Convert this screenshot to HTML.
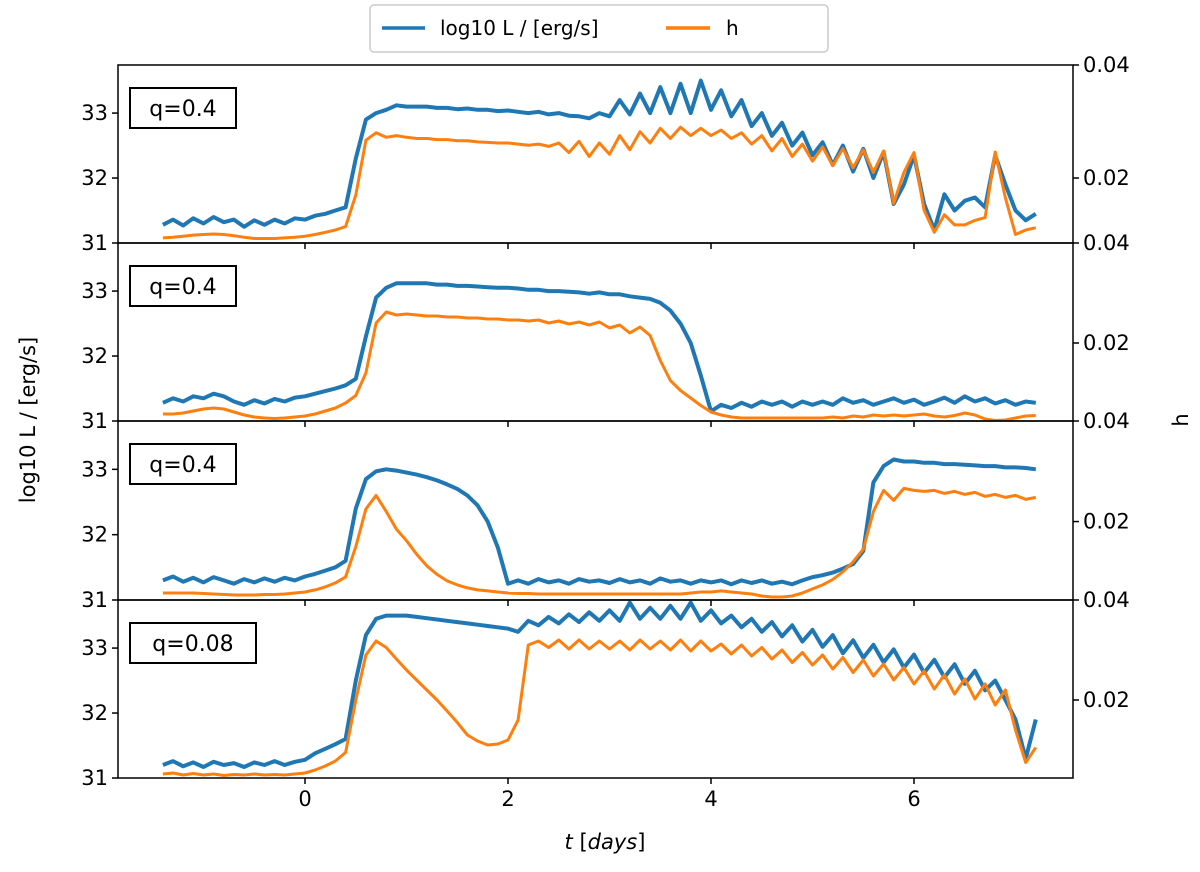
<!DOCTYPE html>
<html><head><meta charset="utf-8"><style>
body{margin:0;background:#fff}
svg text{font-family:"DejaVu Sans","Liberation Sans",sans-serif;fill:#000}
</style></head><body>
<svg id="chart" width="1200" height="867" xmlns="http://www.w3.org/2000/svg"></svg>
<script>
const T=[-1.4,-1.3,-1.2,-1.1,-1.0,-0.9,-0.8,-0.7,-0.6,-0.5,-0.4,-0.3,-0.2,-0.1,0.0,0.1,0.2,0.3,0.4,0.5,0.6,0.7,0.8,0.9,1.0,1.1,1.2,1.3,1.4,1.5,1.6,1.7,1.8,1.9,2.0,2.1,2.2,2.3,2.4,2.5,2.6,2.7,2.8,2.9,3.0,3.1,3.2,3.3,3.4,3.5,3.6,3.7,3.8,3.9,4.0,4.1,4.2,4.3,4.4,4.5,4.6,4.7,4.8,4.9,5.0,5.1,5.2,5.3,5.4,5.5,5.6,5.7,5.8,5.9,6.0,6.1,6.2,6.3,6.4,6.5,6.6,6.7,6.8,6.9,7.0,7.1,7.2];
const L1=[31.28,31.36,31.27,31.38,31.3,31.4,31.32,31.36,31.25,31.35,31.28,31.36,31.3,31.38,31.36,31.42,31.45,31.5,31.55,32.3,32.9,33.0,33.05,33.12,33.1,33.1,33.1,33.08,33.08,33.06,33.07,33.05,33.05,33.03,33.04,33.02,33.0,33.02,32.98,33.0,32.96,32.95,32.92,33.0,32.95,33.2,32.98,33.3,33.0,33.4,33.0,33.45,33.0,33.5,33.05,33.35,32.95,33.2,32.8,33.0,32.65,32.85,32.5,32.7,32.35,32.55,32.2,32.5,32.1,32.45,32.0,32.4,31.6,31.9,32.35,31.6,31.2,31.75,31.5,31.65,31.7,31.55,32.35,31.9,31.5,31.35,31.45];
const H1=[0.0094,0.0095,0.0097,0.0099,0.01,0.0101,0.01,0.0098,0.0095,0.0093,0.0093,0.0093,0.0094,0.0095,0.0097,0.01,0.0104,0.0108,0.0114,0.017,0.0267,0.028,0.0272,0.0275,0.0272,0.027,0.027,0.0268,0.0268,0.0266,0.0266,0.0264,0.0263,0.0262,0.0262,0.026,0.0258,0.026,0.0256,0.0262,0.0245,0.0265,0.0238,0.0262,0.0242,0.0275,0.025,0.0282,0.0262,0.0288,0.027,0.029,0.0275,0.0288,0.0275,0.0285,0.027,0.028,0.026,0.0275,0.0248,0.027,0.0238,0.026,0.023,0.0255,0.0222,0.0252,0.0218,0.025,0.021,0.0248,0.0155,0.021,0.0245,0.0143,0.0104,0.0135,0.0117,0.0117,0.0125,0.013,0.0246,0.0165,0.01,0.0108,0.0112];
const L2=[31.28,31.35,31.3,31.38,31.35,31.42,31.38,31.3,31.25,31.32,31.27,31.34,31.3,31.36,31.38,31.42,31.46,31.5,31.55,31.65,32.3,32.9,33.05,33.12,33.12,33.12,33.12,33.1,33.1,33.08,33.08,33.07,33.06,33.05,33.05,33.04,33.02,33.02,33.0,33.0,32.99,32.98,32.96,32.98,32.95,32.95,32.92,32.9,32.88,32.82,32.7,32.5,32.2,31.7,31.15,31.25,31.2,31.28,31.22,31.3,31.25,31.3,31.22,31.3,31.25,31.3,31.25,31.35,31.28,31.32,31.25,31.3,31.35,31.28,31.33,31.25,31.3,31.36,31.28,31.38,31.3,31.35,31.27,31.32,31.25,31.3,31.28];
const H2=[0.0058,0.0058,0.006,0.0064,0.0068,0.007,0.0068,0.0062,0.0056,0.0052,0.005,0.0049,0.005,0.0052,0.0054,0.0058,0.0064,0.007,0.008,0.0095,0.014,0.024,0.0262,0.0256,0.0258,0.0256,0.0254,0.0254,0.0252,0.0252,0.025,0.025,0.0248,0.0248,0.0246,0.0246,0.0244,0.0246,0.024,0.0244,0.0238,0.0242,0.0236,0.0242,0.023,0.0236,0.022,0.0232,0.0215,0.0165,0.0125,0.0105,0.009,0.0075,0.0062,0.0056,0.0052,0.005,0.005,0.005,0.005,0.005,0.005,0.005,0.005,0.005,0.0052,0.005,0.0054,0.0052,0.0056,0.0054,0.0056,0.0054,0.0056,0.0058,0.0054,0.0052,0.0055,0.006,0.0056,0.0048,0.0045,0.0046,0.005,0.0054,0.0055];
const L3=[31.3,31.36,31.28,31.34,31.27,31.35,31.3,31.25,31.32,31.27,31.33,31.28,31.34,31.3,31.36,31.4,31.45,31.5,31.6,32.4,32.85,32.97,33.0,32.98,32.95,32.92,32.88,32.83,32.77,32.7,32.6,32.45,32.2,31.8,31.25,31.3,31.25,31.32,31.27,31.3,31.25,31.32,31.28,31.3,31.26,31.32,31.27,31.3,31.25,31.33,31.28,31.3,31.25,31.3,31.27,31.3,31.24,31.3,31.26,31.3,31.25,31.28,31.24,31.3,31.35,31.38,31.42,31.48,31.55,31.75,32.8,33.05,33.15,33.12,33.12,33.1,33.1,33.08,33.08,33.07,33.06,33.05,33.05,33.03,33.03,33.02,33.0];
const H3=[0.0058,0.0058,0.0058,0.0058,0.0057,0.0056,0.0055,0.0054,0.0054,0.0054,0.0055,0.0055,0.0056,0.0058,0.006,0.0064,0.007,0.0078,0.009,0.015,0.0225,0.0252,0.022,0.0185,0.0162,0.0135,0.0112,0.0095,0.0082,0.0074,0.0068,0.0064,0.0062,0.006,0.0058,0.0057,0.0057,0.0056,0.0056,0.0056,0.0056,0.0056,0.0056,0.0056,0.0056,0.0056,0.0056,0.0056,0.0056,0.0056,0.0056,0.0056,0.0058,0.006,0.006,0.0062,0.006,0.0058,0.0056,0.0052,0.005,0.005,0.0052,0.0058,0.0066,0.0074,0.0085,0.01,0.012,0.0145,0.022,0.0262,0.0242,0.0266,0.0262,0.026,0.0262,0.0256,0.026,0.0254,0.0258,0.025,0.0254,0.0248,0.0252,0.0244,0.0248];
const L4=[31.2,31.26,31.18,31.24,31.17,31.25,31.2,31.23,31.17,31.24,31.2,31.26,31.2,31.25,31.28,31.38,31.45,31.52,31.6,32.5,33.2,33.45,33.5,33.5,33.5,33.48,33.46,33.44,33.42,33.4,33.38,33.36,33.34,33.32,33.3,33.25,33.42,33.35,33.48,33.38,33.52,33.4,33.55,33.42,33.58,33.42,33.7,33.45,33.62,33.45,33.65,33.45,33.7,33.42,33.58,33.38,33.5,33.32,33.45,33.25,33.4,33.18,33.35,33.1,33.28,33.02,33.2,32.92,33.12,32.85,33.05,32.78,32.98,32.7,32.9,32.62,32.82,32.55,32.75,32.45,32.65,32.35,32.5,32.2,31.9,31.3,31.9];
const H4=[0.0052,0.0054,0.005,0.0053,0.005,0.0052,0.0049,0.0051,0.005,0.0052,0.005,0.0051,0.005,0.0052,0.0054,0.006,0.0068,0.0078,0.0095,0.02,0.029,0.0318,0.0305,0.0282,0.026,0.024,0.022,0.02,0.0178,0.0155,0.013,0.0118,0.011,0.0112,0.012,0.016,0.031,0.0318,0.0305,0.032,0.0302,0.032,0.0302,0.0318,0.0302,0.0318,0.03,0.032,0.0302,0.0318,0.03,0.032,0.0298,0.0318,0.0298,0.0312,0.0292,0.031,0.0288,0.0305,0.0282,0.03,0.0275,0.0295,0.027,0.029,0.0262,0.0285,0.0255,0.028,0.0248,0.0272,0.024,0.0265,0.0232,0.0258,0.0222,0.025,0.0212,0.0242,0.0202,0.0232,0.019,0.022,0.014,0.0075,0.0105];
const qLabels=["q=0.4","q=0.4","q=0.4","q=0.08"];
const xTicks=[0,2,4,6];
const yTicks=[31,32,33];
const hTicks=[0.02,0.04];
const hDomains=[[0.0085,0.04],[0.0044,0.04],[0.0044,0.04],[0.0044,0.04]];
const Ls=[L1,L2,L3,L4], Hs=[H1,H2,H3,H4];

const svg=document.getElementById('chart');
const NS='http://www.w3.org/2000/svg';
function mk(tag,attrs,parent){const e=document.createElementNS(NS,tag);for(const k in attrs)e.setAttribute(k,attrs[k]);(parent||svg).appendChild(e);return e;}
const X0=118,X1=1073,PT=[65,243,421,600],PH=[178,178,179,178];
const xS=t=>305+t*101.5;
for(let p=0;p<4;p++){
  const top=PT[p],bot=top+PH[p];
  const yS=v=>bot-(v-31)*(PH[p]/2.74);
  const hS=h=>bot-(h-hDomains[p][0])/(hDomains[p][1]-hDomains[p][0])*PH[p];
  const g=mk('g',{});
  
  
  const clip=mk('clipPath',{id:'c'+p},g);mk('rect',{x:X0,y:top,width:X1-X0,height:PH[p]},clip);
  let d='';Ls[p].forEach((v,i)=>{d+=(i?'L':'M')+xS(T[i]).toFixed(1)+' '+yS(v).toFixed(1);});
  const lb=mk('path',{d:d,fill:'none',stroke:'#1f77b4','stroke-width':4,'stroke-linejoin':'round','clip-path':'url(#c'+p+')'},g);
  
  
  d='';Hs[p].forEach((v,i)=>{d+=(i?'L':'M')+xS(T[i]).toFixed(1)+' '+hS(v).toFixed(1);});
  const lh=mk('path',{d:d,fill:'none',stroke:'#ff7f0e','stroke-width':3,'stroke-linejoin':'round','clip-path':'url(#c'+p+')'},g);
  
  
  const fr=mk('rect',{x:X0,y:top,width:X1-X0,height:PH[p],fill:'none',stroke:'#000','stroke-width':1.5},g);
  
  
  yTicks.forEach(v=>{const y=yS(v);mk('line',{x1:X0-6,x2:X0,y1:y,y2:y,stroke:'#000','stroke-width':1.5},g);
    const t=mk('text',{x:X0-10,y:y+7,'text-anchor':'end','font-size':21},g);t.textContent=v;
    });
  hTicks.forEach(v=>{const y=hS(v);mk('line',{x1:X1,x2:X1+6,y1:y,y2:y,stroke:'#000','stroke-width':1.5},g);
    const t=mk('text',{x:X1+10,y:y+7,'font-size':21},g);t.textContent=v.toFixed(2);
    });
  xTicks.forEach(v=>{mk('line',{x1:xS(v),x2:xS(v),y1:bot,y2:bot+6,stroke:'#000','stroke-width':1.5},g);});
  const bw=p==3?126:106;
  const qb=mk('rect',{x:130,y:top+23,width:bw,height:40,fill:'#fff',stroke:'#000','stroke-width':2},g);
  
  const qt=mk('text',{x:130+bw/2,y:top+51,'text-anchor':'middle','font-size':22},g);qt.textContent=qLabels[p];
  
}
xTicks.forEach(v=>{const t=mk('text',{x:xS(v),y:806,'text-anchor':'middle','font-size':21});t.textContent=v;
  });
let t=mk('text',{x:605,y:849,'text-anchor':'middle','font-size':21});
t.innerHTML='<tspan font-style="italic">t</tspan> [<tspan font-style="italic">days</tspan>]';

t=mk('text',{x:35,y:420,'text-anchor':'middle','font-size':21,transform:'rotate(-90 35 420)'});t.textContent='log10 L / [erg/s]';

t=mk('text',{x:1188,y:420,'text-anchor':'middle','font-size':21,transform:'rotate(-90 1188 420)'});t.textContent='h';

const lg=mk('g',{});
mk('rect',{x:370,y:5,width:458,height:47,rx:4,fill:'#fff',stroke:'#ccc','stroke-width':1.5},lg);
const e1=mk('line',{x1:382,x2:425,y1:28,y2:28,stroke:'#1f77b4','stroke-width':3.5},lg);

t=mk('text',{x:440,y:35,'font-size':20},lg);t.textContent='log10 L / [erg/s]';

const e2=mk('line',{x1:666,x2:710,y1:28,y2:28,stroke:'#ff7f0e','stroke-width':3.5},lg);

t=mk('text',{x:726,y:35,'font-size':20},lg);t.textContent='h';

</script>
</body></html>
